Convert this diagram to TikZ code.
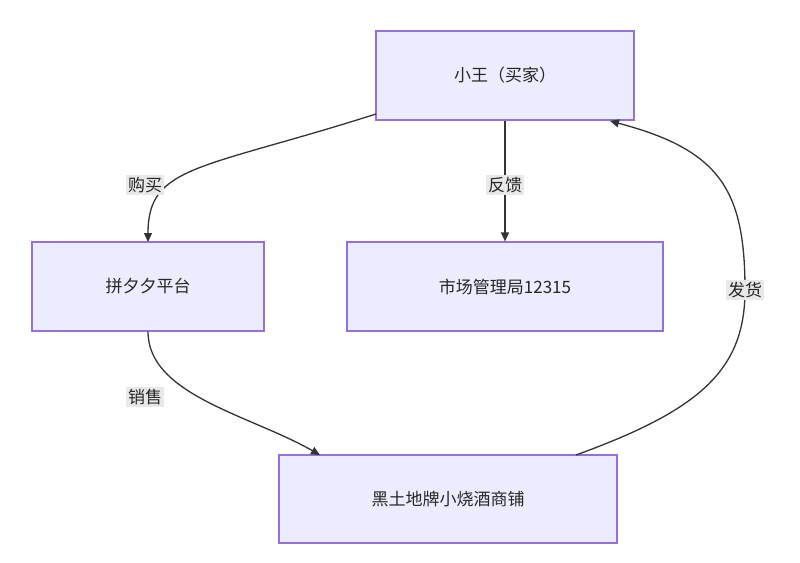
\documentclass[tikz,border=0pt]{standalone}
\usepackage{fontspec}
\setmainfont{Noto Sans CJK SC}
\usetikzlibrary{arrows.meta,calc}
\definecolor{boxfill}{HTML}{ECECFF}
\definecolor{boxline}{HTML}{9370DB}
\definecolor{lblbg}{HTML}{E8E8E8}
\definecolor{edge}{HTML}{333333}
\begin{document}
\begin{tikzpicture}[x=1pt,y=-1pt,
  box/.style={draw=boxline,fill=boxfill,line width=1.2pt,inner sep=0pt,font=\fontsize{17}{20}\selectfont,text=black!85},
  lbl/.style={fill=lblbg,inner sep=2pt,font=\fontsize{17}{20}\selectfont,text=black!85},
  conn/.style={draw=edge,line width=1.3pt,-{Triangle[length=9pt,width=8pt]}}]
\useasboundingbox (0,0) rectangle (800,562);
\node[box,minimum width=258,minimum height=89] (xw) at (505,75.5) {小王（买家）};
\node[box,minimum width=232,minimum height=89] (pdd) at (148,286.5) {拼夕夕平台};
\node[box,minimum width=316,minimum height=89] (scj) at (505,286.5) {市场管理局12315};
\node[box,minimum width=338,minimum height=88] (shop) at (448,499) {黑土地牌小烧酒商铺};
\coordinate (c1) at (376,114);
\coordinate (c2) at (148,242);
\coordinate (c3) at (320,455);
\coordinate (c4) at (576,455);
\coordinate (c5) at (610,121);
\coordinate (m4) at (745,290);
\draw[conn] (c1) .. controls (200,170) and (148,165) .. (c2);
\draw[conn] (xw.south) -- (scj.north);
\draw[conn] (pdd.south) .. controls (148,395) and (250,415) .. (c3);
\draw[draw=edge,line width=1.3pt] (c4) .. controls (700,410) and (745,370) .. (m4);
\draw[conn] (m4) .. controls (745,190) and (720,150) .. (c5);
\node[lbl] (l1) at (145,185) {购买};
\node[lbl] (l2) at (505,185) {反馈};
\node[lbl] (l3) at (145,397) {销售};
\node[lbl] (l4) at (745,290) {发货};
\end{tikzpicture}
\end{document}
